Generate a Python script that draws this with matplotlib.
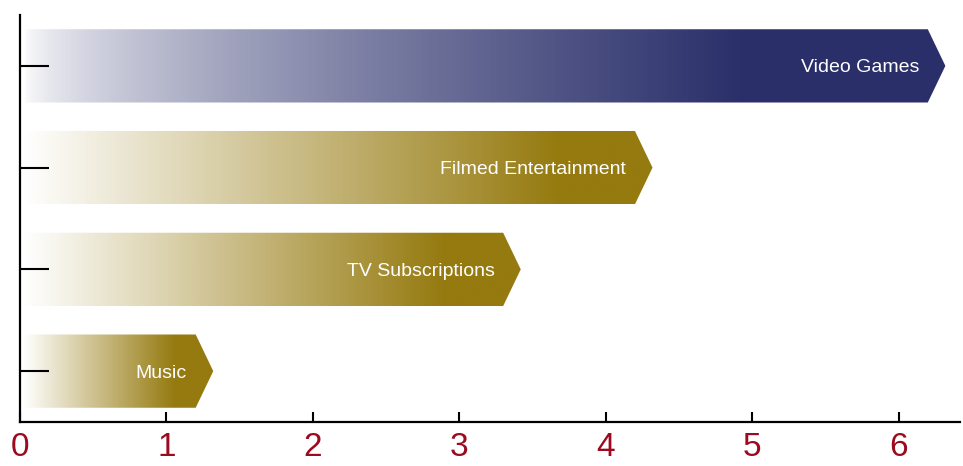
import numpy as np
import matplotlib.pyplot as plt
from matplotlib.patches import Polygon
from matplotlib.colors import LinearSegmentedColormap

plt.rcParams['font.family'] = ['Liberation Sans', 'DejaVu Sans']

# data
categories = ['Music', 'TV Subscriptions', 'Filmed Entertainment', 'Video Games']
values = [1.2, 3.3, 4.2, 6.2]
bar_colors = ['#957a0f', '#957a0f', '#957a0f', '#2a2f6a']
xticks = [0, 1, 2, 3, 4, 5, 6]

fig = plt.figure(figsize=(9.63, 4.66), dpi=100)
ax = fig.add_axes([20 / 963, 44 / 466, 940 / 963, 407 / 466])

bar_h = 0.72
tip = 0.12
x0 = 0.02

for i, (cat, val, col) in enumerate(zip(categories, values, bar_colors)):
    y = i
    pts = [(x0, y - bar_h / 2), (val, y - bar_h / 2), (val + tip, y),
           (val, y + bar_h / 2), (x0, y + bar_h / 2)]
    poly = Polygon(pts, closed=True, facecolor='none', edgecolor='none')
    ax.add_patch(poly)

    # gradient: white on the left, full colour near the right end
    cmap = LinearSegmentedColormap.from_list('g', ['#ffffff', col])
    n = 400
    xs = np.linspace(x0, val + tip, n)
    if col == '#2a2f6a':
        frac = np.clip((xs - x0) / (0.8 * (val - x0)), 0, 1) ** 0.65
    else:
        frac = np.clip((xs - x0) / (0.88 * (val - x0)), 0, 1)
    grad = frac[np.newaxis, :]
    im = ax.imshow(grad, cmap=cmap, vmin=0, vmax=1, aspect='auto',
                   extent=(x0, val + tip, y - bar_h / 2, y + bar_h / 2),
                   interpolation='bilinear', zorder=0)
    im.set_clip_path(poly)

    ax.text(val - 0.06, y, cat, ha='right', va='center_baseline', color='white',
            fontsize=14)

ax.set_xlim(0, 6.42)
ax.set_ylim(-0.5, 3.5)
ax.set_axisbelow(False)

ax.set_xticks(xticks)
ax.set_xticklabels([str(t) for t in xticks])
ax.set_yticks(range(len(categories)))
ax.set_yticklabels([])

ax.tick_params(axis='x', direction='in', length=7, width=1.5, colors='black',
               labelcolor='#9b0a1e', labelsize=24, pad=7)
ax.tick_params(axis='y', direction='in', length=21, width=1.5, colors='black')

for s in ['top', 'right']:
    ax.spines[s].set_visible(False)
for s in ['left', 'bottom']:
    ax.spines[s].set_linewidth(1.6)

fig.savefig('out.png', dpi=100)
